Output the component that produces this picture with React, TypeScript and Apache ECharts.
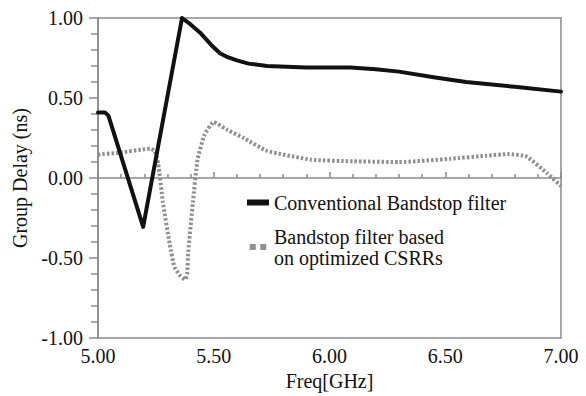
import React, { useEffect, useRef } from "react";
import * as echarts from "echarts";

const conventionalX = [5.0, 5.03, 5.045, 5.195, 5.363, 5.4, 5.44, 5.49, 5.527, 5.56, 5.6, 5.65, 5.73, 5.9, 6.09, 6.2, 6.3, 6.45, 6.59, 6.8, 7.0];
const conventionalY = [0.41, 0.41, 0.39, -0.305, 1.0, 0.96, 0.91, 0.83, 0.78, 0.755, 0.735, 0.715, 0.7, 0.69, 0.69, 0.68, 0.665, 0.63, 0.6, 0.57, 0.54];

const csrrX = [5.0, 5.1, 5.2, 5.225, 5.245, 5.26, 5.28, 5.31, 5.33, 5.355, 5.376, 5.385, 5.39, 5.41, 5.43, 5.46, 5.5, 5.56, 5.63, 5.73, 5.92, 6.1, 6.3, 6.52, 6.68, 6.77, 6.85, 6.94, 7.0];
const csrrY = [0.146, 0.16, 0.18, 0.183, 0.17, 0.09, -0.15, -0.415, -0.555, -0.61, -0.635, -0.6, -0.46, -0.15, 0.115, 0.27, 0.35, 0.3, 0.25, 0.17, 0.115, 0.105, 0.1, 0.12, 0.14, 0.15, 0.135, 0.03, -0.05];

const seriesNames = ["Conventional Bandstop filter", "Bandstop filter based\non optimized CSRRs"];
const xAxisName = "Freq[GHz]";
const yAxisName = "Group Delay (ns)";

const FONT = "Liberation Serif";

export default function App() {
  const ref = useRef<HTMLDivElement>(null);
  useEffect(() => {
    const chart = echarts.init(ref.current!, undefined, { renderer: "svg" });
    const axisColor = "#8a8a8a";
    chart.setOption({
      animation: false,
      backgroundColor: "#ffffff",
      grid: {
        left: 98,
        right: 25,
        top: 18,
        bottom: 50,
        show: true,
        borderColor: axisColor,
        borderWidth: 1.5,
      },
      legend: {
        orient: "vertical",
        left: 242,
        top: 187,
        itemGap: 13,
        itemWidth: 22,
        itemHeight: 6,
        textStyle: { fontFamily: FONT, fontSize: 20, color: "#111", lineHeight: 21 },
        data: [
          { name: seriesNames[0], icon: "rect", itemStyle: { color: "#111" } },
          {
            name: seriesNames[1],
            icon: "path://M0,0h4v4h-4z M7,0h4v4h-4z",
            itemStyle: { color: "#909090" },
          },
        ],
      },
      xAxis: {
        type: "value",
        min: 5,
        max: 7,
        interval: 0.5,
        name: xAxisName,
        nameLocation: "middle",
        nameGap: 27,
        nameTextStyle: { fontFamily: FONT, fontSize: 20, color: "#111" },
        axisLine: { show: true, lineStyle: { color: axisColor, width: 1.5 } },
        axisTick: { show: true, inside: true, length: 6, lineStyle: { color: axisColor, width: 1.5 } },
        minorTick: { show: true, splitNumber: 5, length: 4, lineStyle: { color: axisColor, width: 1.5 } },
        splitLine: { show: false },
        axisLabel: {
          fontFamily: FONT,
          fontSize: 20,
          color: "#111",
          margin: 8,
          formatter: (v: number) => v.toFixed(2),
        },
      },
      yAxis: {
        type: "value",
        min: -1,
        max: 1,
        interval: 0.5,
        name: yAxisName,
        nameLocation: "middle",
        nameGap: 66,
        nameTextStyle: { fontFamily: FONT, fontSize: 20, color: "#111" },
        axisLine: { show: true, lineStyle: { color: axisColor, width: 1.5 } },
        axisTick: { show: true, inside: false, length: 9, lineStyle: { color: axisColor, width: 1.5 } },
        minorTick: { show: true, splitNumber: 5, length: 7, lineStyle: { color: axisColor, width: 1.5 } },
        splitLine: { show: false },
        axisLabel: {
          fontFamily: FONT,
          fontSize: 20,
          color: "#111",
          margin: 15,
          formatter: (v: number) => v.toFixed(2),
        },
      },
      series: [
        {
          name: seriesNames[0],
          type: "line",
          data: conventionalX.map((x, i) => [x, conventionalY[i]]),
          showSymbol: false,
          symbol: "none",
          lineStyle: { color: "#111", width: 4, join: "round", cap: "round" },
          itemStyle: { color: "#111" },
          z: 3,
        },
        {
          name: seriesNames[1],
          type: "line",
          data: csrrX.map((x, i) => [x, csrrY[i]]),
          showSymbol: false,
          symbol: "none",
          smooth: 0.15,
          lineStyle: { color: "#909090", width: 4, type: [2.5, 2] },
          itemStyle: { color: "#909090" },
          z: 2,
        },
      ],
    });
    return () => chart.dispose();
  }, []);
  return (
    <div
      ref={ref}
      style={{ position: "fixed", left: 0, top: 0, width: 586, height: 396 }}
    />
  );
}
